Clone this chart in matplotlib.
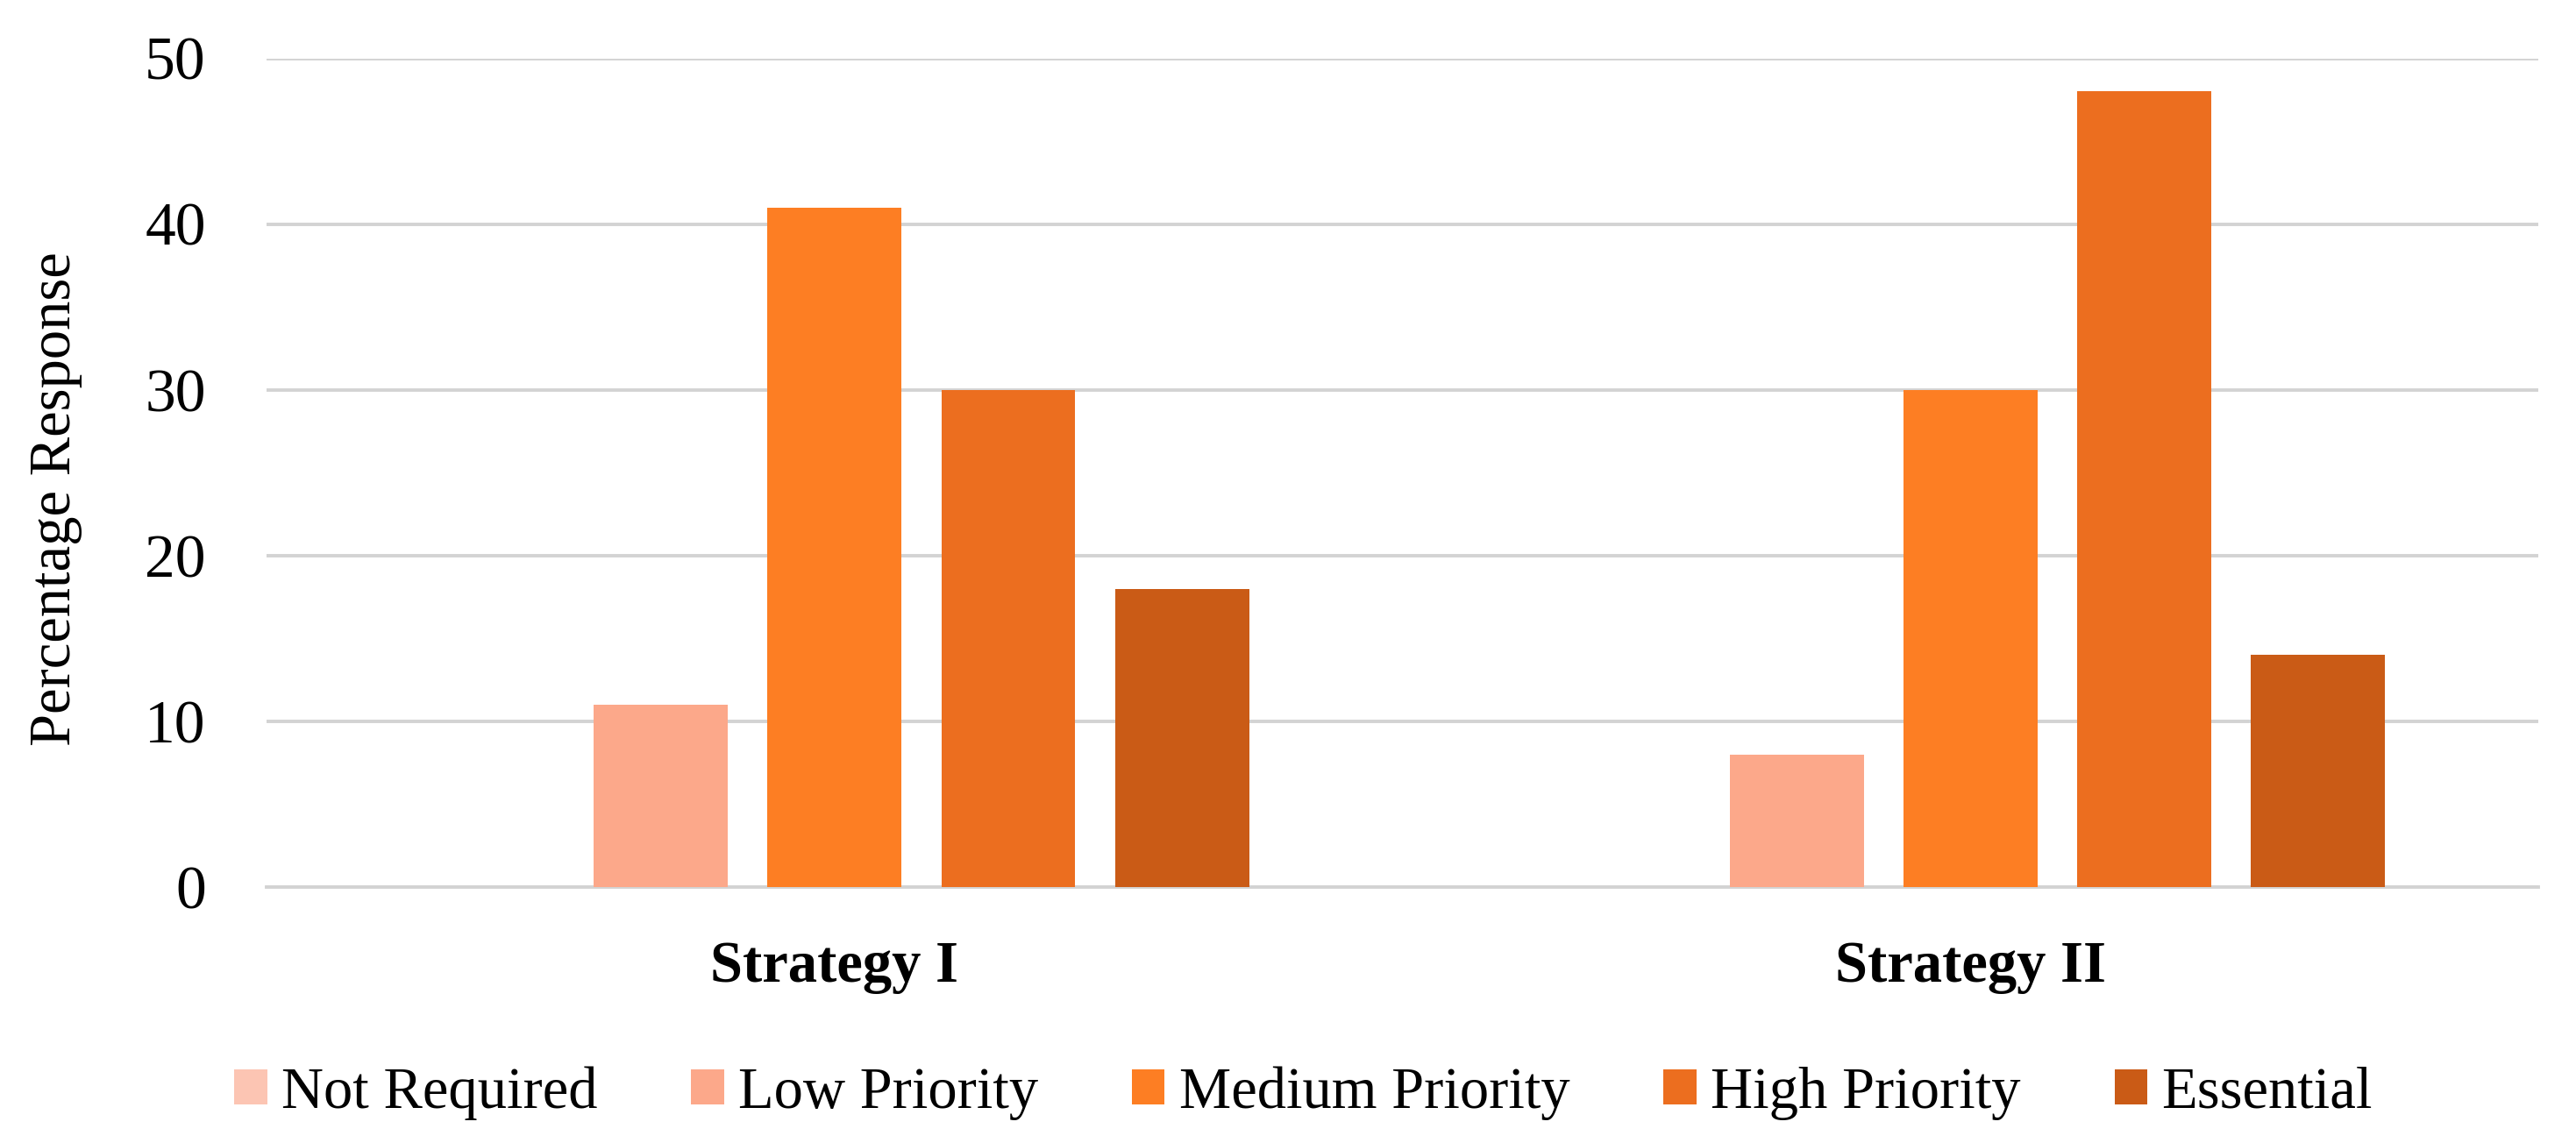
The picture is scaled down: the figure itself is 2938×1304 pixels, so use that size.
import numpy as np
import matplotlib.pyplot as plt

# data
strategies = ["Strategy I", "Strategy II"]
levels = ["Not Required", "Low Priority", "Medium Priority", "High Priority", "Essential"]
not_required = [0, 0]
low_priority = [11, 8]
medium_priority = [41, 30]
high_priority = [30, 48]
essential = [18, 14]
colors = ["#FCC5B3", "#FCA88A", "#FD7E23", "#EC6E1F", "#CA5B16"]

series = [not_required, low_priority, medium_priority, high_priority, essential]

plt.rcParams['font.family'] = ['Liberation Serif', 'DejaVu Serif']

fig = plt.figure(figsize=(14.69, 6.52), dpi=200)
ax = fig.add_axes([0.1035, 0.2239, 0.8819, 0.725])

x = np.arange(len(strategies))
pitch = 0.153
width = 0.118
for i, (vals, lab, c) in enumerate(zip(series, levels, colors)):
    ax.bar(x + (i - 2) * pitch, vals, width, color=c, label=lab, zorder=3)

ax.set_xlim(-0.5, 1.5)
ax.set_ylim(0, 50)
ax.set_yticks([0, 10, 20, 30, 40, 50])
ax.yaxis.grid(True, color="#D3D3D3", lw=1.4, zorder=0)
ax.set_axisbelow(True)
for s in ["top", "right", "left"]:
    ax.spines[s].set_visible(False)
ax.spines["bottom"].set_color("#D3D3D3")
ax.spines["bottom"].set_linewidth(1.4)

ax.set_xticks(x)
ax.set_xticklabels(strategies, fontsize=24, fontweight='bold')
ax.tick_params(axis='x', length=0, pad=22)
ax.tick_params(axis='y', length=0, pad=25, labelsize=25)
ax.set_ylabel("Percentage Response", fontsize=24)
ax.yaxis.set_label_coords(-0.081, 0.469)

ax.legend(loc='center', bbox_to_anchor=(0.506, 0.0437), bbox_transform=fig.transFigure,
          ncol=5, frameon=False, fontsize=24, handlelength=0.56, handleheight=0.56,
          handletextpad=0.25, columnspacing=1.6, borderpad=0)

fig.savefig("out.png", dpi=200)
